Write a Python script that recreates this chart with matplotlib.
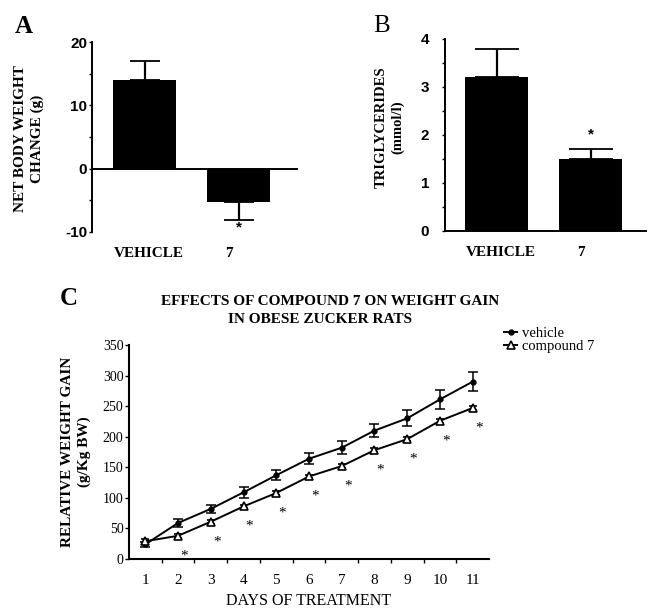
import matplotlib
matplotlib.use('Agg')
import matplotlib.pyplot as plt
import numpy as np

plt.rcParams['axes.unicode_minus'] = False

SERIF = ['Liberation Serif', 'DejaVu Serif']
SANS = ['Liberation Sans', 'DejaVu Sans']

# ---------------- data ----------------
# Panel A: net body weight change (g)
a_groups = ['VEHICLE', '7']
a_means = [14.0, -5.2]
a_sem = [3.0, 2.9]
a_signif = [False, True]

# Panel B: triglycerides (mmol/l)
b_groups = ['VEHICLE', '7']
b_means = [3.2, 1.5]
b_sem = [0.6, 0.2]
b_signif = [False, True]

# Panel C: relative weight gain (g/Kg BW)
days = [1, 2, 3, 4, 5, 6, 7, 8, 9, 10, 11]
vehicle = [24, 59, 82, 109, 137, 164, 182, 210, 230, 261, 290]
vehicle_err = [4, 6, 6, 9, 8, 9, 11, 10, 13, 15, 16]
compound7 = [29, 38, 61, 86, 108, 135, 152, 178, 196, 226, 247]
compound7_err = [4, 3, 3, 3, 3, 3, 3, 3, 3, 3, 4]
sig_days = [2, 3, 4, 5, 6, 7, 8, 9, 10, 11]

W, H = 648, 610
fig = plt.figure(figsize=(W / 100, H / 100), dpi=100)


def fbox(x0, y_top, x1, y_bot):
    return [x0 / W, 1 - y_bot / H, (x1 - x0) / W, (y_bot - y_top) / H]


def bar_panel(ax, groups, means, sem, capsize):
    x = np.arange(len(groups))
    ax.bar(x, means, width=0.67, color='black', zorder=2)
    lower = [s if m < 0 else 0 for m, s in zip(means, sem)]
    upper = [s if m >= 0 else 0 for m, s in zip(means, sem)]
    ax.errorbar(x, means, yerr=[lower, upper], fmt='none', ecolor='black',
                elinewidth=1.6, capsize=capsize, capthick=1.3, zorder=1)
    for s in ['top', 'right']:
        ax.spines[s].set_visible(False)
    ax.spines['left'].set_linewidth(1.4)
    ax.set_xticks([0.05, 0.9])
    ax.set_xticklabels(groups, fontfamily=SERIF, fontweight='bold', fontsize=11)
    ax.tick_params(axis='x', length=0, pad=11)
    ax.tick_params(axis='y', which='both', direction='out', length=2.5, width=1)
    return x


def style_yticklabels(ax):
    for lab in ax.get_yticklabels():
        lab.set_fontfamily(SANS)
        lab.set_fontweight('bold')
        lab.set_fontsize(11)


# ---------------- Panel A ----------------
axA = fig.add_axes(fbox(92, 42, 298, 232))
xa = bar_panel(axA, a_groups, a_means, a_sem, capsize=11)
axA.set_xlim(-0.559, 1.633)
axA.set_ylim(-10, 20)
axA.set_yticks([-10, 0, 10, 20])
axA.set_yticks([-5, 5, 15], minor=True)
style_yticklabels(axA)
axA.tick_params(axis='y', pad=1)
axA.spines['bottom'].set_visible(False)
axA.axhline(0, color='black', lw=1.4, zorder=3)
for i, sig in enumerate(a_signif):
    if sig:
        axA.annotate('*', xy=(xa[i], a_means[i] - a_sem[i]), xytext=(0, -8),
                     textcoords='offset pixels', ha='center', va='center',
                     fontsize=11, fontfamily=SANS, fontweight='bold')
fig.text(29 / W, 1 - 139 / H, 'NET BODY WEIGHT\nCHANGE (g)', rotation=90,
         ha='center', va='center', fontfamily=SERIF, fontweight='bold',
         fontsize=11, linespacing=1.3)
fig.text(15 / W, 1 - 33 / H, 'A', fontfamily=SERIF, fontweight='bold',
         fontsize=18, ha='left', va='baseline')

# ---------------- Panel B ----------------
axB = fig.add_axes(fbox(445, 39, 646, 231))
xb = bar_panel(axB, b_groups, b_means, b_sem, capsize=16)
axB.set_xlim(-0.548, 1.59)
axB.set_ylim(0, 4)
axB.set_yticks([0, 1, 2, 3, 4])
axB.set_yticks([0.5, 1.5, 2.5, 3.5], minor=True)
style_yticklabels(axB)
axB.tick_params(axis='y', pad=9)
axB.spines['bottom'].set_linewidth(1.4)
for i, sig in enumerate(b_signif):
    if sig:
        axB.annotate('*', xy=(xb[i], b_means[i] + b_sem[i]), xytext=(0, 15),
                     textcoords='offset pixels', ha='center', va='center',
                     fontsize=11, fontfamily=SANS, fontweight='bold')
fig.text(390 / W, 1 - 127 / H, 'TRIGLYCERIDES\n(mmol/l)', rotation=90,
         ha='center', va='center', fontfamily=SERIF, fontweight='bold',
         fontsize=10.5, linespacing=1.3)
fig.text(373 / W, 1 - 32 / H, 'B', fontfamily=SERIF, fontsize=18,
         ha='left', va='baseline')

# ---------------- Panel C ----------------
axC = fig.add_axes(fbox(129, 345, 489, 559))
hv = axC.errorbar(days, vehicle, yerr=vehicle_err, fmt='-o', color='black',
                  ms=3.5, lw=1.4, elinewidth=1.1, capsize=3.5, capthick=1.1,
                  label='vehicle')
hc = axC.errorbar(days, compound7, yerr=compound7_err, fmt='-^', color='black',
                  mfc='white', mec='black', mew=1.2, ms=5.5, lw=1.4,
                  elinewidth=1.1, capsize=3, capthick=1.1, label='compound 7')
for d in sig_days:
    axC.annotate('*', xy=(d, compound7[days.index(d)]), xytext=(6, -20),
                 textcoords='offset pixels', ha='center', va='center',
                 fontsize=11, fontfamily=SERIF)
axC.set_xlim(0.5, 11.5)
axC.set_ylim(0, 350)
axC.set_xticks(days)
axC.set_xticklabels([str(d) for d in days], fontfamily=SERIF, fontsize=11)
axC.set_xticks(np.arange(1.5, 11.0, 1.0), minor=True)
axC.tick_params(axis='x', which='major', length=0, pad=11)
axC.tick_params(axis='x', which='minor', length=3, width=1, direction='out')
axC.set_yticks(np.arange(0, 351, 50))
for lab in axC.get_yticklabels():
    lab.set_fontfamily(SERIF)
    lab.set_fontsize(10)
axC.tick_params(axis='y', length=3, width=1, pad=1)
for s in ['top', 'right']:
    axC.spines[s].set_visible(False)
for s in ['left', 'bottom']:
    axC.spines[s].set_linewidth(1.5)
axC.set_xlabel('DAYS OF TREATMENT', fontfamily=SERIF, fontsize=11.5, labelpad=4)
fig.text(76 / W, 1 - 452 / H, 'RELATIVE WEIGHT GAIN\n(g/Kg BW)', rotation=90,
         ha='center', va='center', fontfamily=SERIF, fontweight='bold',
         fontsize=11, linespacing=1.25)
fig.text(330 / W, 1 - 305 / H, 'EFFECTS OF COMPOUND 7 ON WEIGHT GAIN',
         ha='center', va='baseline', fontfamily=SERIF, fontweight='bold',
         fontsize=11)
fig.text(320 / W, 1 - 323 / H, 'IN OBESE ZUCKER RATS',
         ha='center', va='baseline', fontfamily=SERIF, fontweight='bold',
         fontsize=11)
fig.text(60 / W, 1 - 305 / H, 'C', fontfamily=SERIF, fontweight='bold',
         fontsize=18, ha='left', va='baseline')
fig.legend(handles=[hv.lines[0], hc.lines[0]], labels=['vehicle', 'compound 7'],
           loc='upper left', bbox_to_anchor=(504 / W, 1 - 327 / H),
           frameon=False, prop={'family': SERIF, 'size': 10.5},
           handlelength=0.9, handletextpad=0.35, labelspacing=0.0,
           borderpad=0, borderaxespad=0)

fig.savefig('out.png', dpi=100)
